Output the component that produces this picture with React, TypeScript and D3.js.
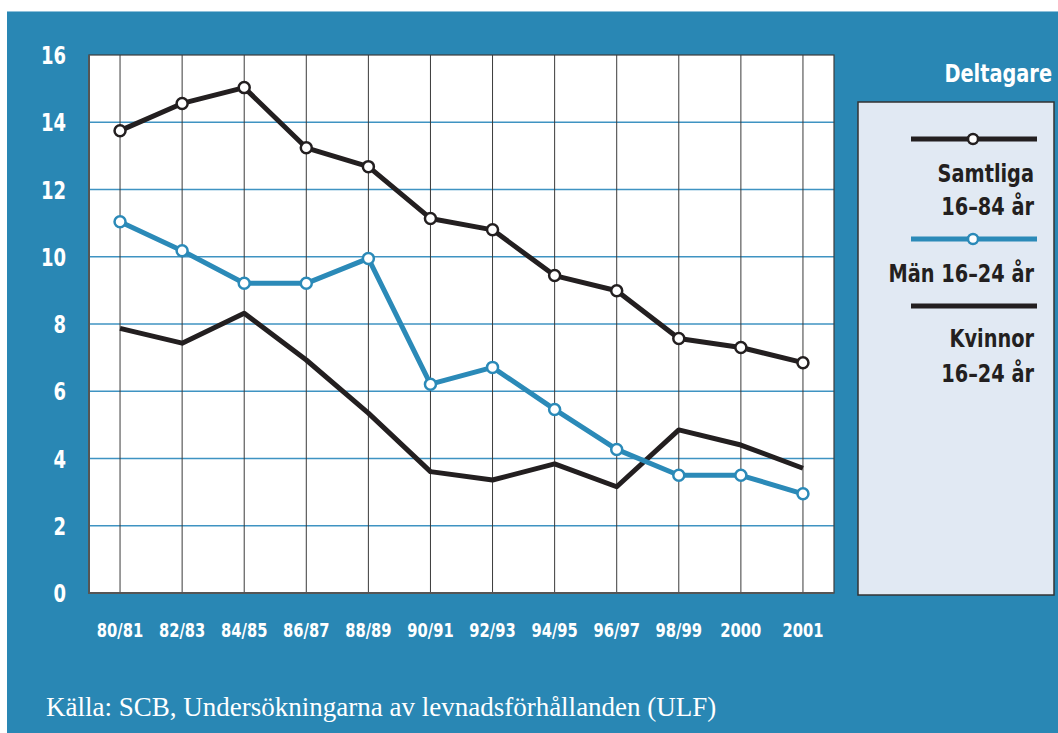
import React from 'react'
import * as d3 from 'd3'

const periods = ['80/81', '82/83', '84/85', '86/87', '88/89', '90/91', '92/93', '94/95', '96/97', '98/99', '2000', '2001']
const samtliga = [13.75, 14.56, 15.03, 13.24, 12.68, 11.14, 10.8, 9.44, 8.99, 7.57, 7.3, 6.85]
const man = [11.04, 10.18, 9.21, 9.21, 9.95, 6.21, 6.71, 5.46, 4.27, 3.5, 3.5, 2.95]
const kvinnor = [7.87, 7.43, 8.32, 6.93, 5.35, 3.61, 3.36, 3.84, 3.16, 4.85, 4.4, 3.71]
const yTicks = [0, 2, 4, 6, 8, 10, 12, 14, 16]

const BLUE_BG = '#2987b4'
const BLUE_LINE = '#2b8ab8'
const BLACK = '#231f20'
const COND = "'DejaVu Sans Condensed', 'DejaVu Sans', sans-serif"

// squeezed bold label, the original uses a condensed face we don't have
function CText({ x, y, sx = 0.84, size, anchor = 'start', fill = BLACK, dy, children }: any) {
  return (
    <text transform={`translate(${x},${y}) scale(${sx},1)`} textAnchor={anchor} fill={fill} dy={dy}
      fontFamily={COND} fontWeight="bold" fontSize={size}>{children}</text>
  )
}

export default function App() {
  const W = 1058
  const H = 733
  const plot = { left: 89, top: 55, right: 834, bottom: 593 }

  const x = d3.scalePoint<string>().domain(periods).range([plot.left, plot.right]).padding(0.5)
  const y = d3.scaleLinear().domain([0, 16]).range([plot.bottom, plot.top])

  const line = d3.line<number>()
    .x((_, i) => x(periods[i]) as number)
    .y(d => y(d))

  const series = [
    { name: 'kvinnor', values: kvinnor, color: BLACK, markers: false },
    { name: 'man', values: man, color: BLUE_LINE, markers: true },
    { name: 'samtliga', values: samtliga, color: BLACK, markers: true },
  ]

  return (
    <svg width={W} height={H} style={{ position: 'absolute', left: 0, top: 0 }}>
      <rect x={0} y={0} width={W} height={H} fill="#fff" />
      <rect x={7} y={11} width={W - 7} height={H - 11} fill={BLUE_BG} />
      <line x1={7} x2={W} y1={11.5} y2={11.5} stroke="#8ec0da" strokeWidth={1} />

      {/* plot area */}
      <rect x={plot.left} y={plot.top} width={plot.right - plot.left} height={plot.bottom - plot.top} fill="#fff" />
      {yTicks.filter(t => t > 0 && t < 16).map(t => (
        <line key={'h' + t} x1={plot.left} x2={plot.right} y1={y(t)} y2={y(t)} stroke="#3f93c2" strokeWidth={1.3} />
      ))}
      {periods.map(p => (
        <line key={'v' + p} x1={x(p)} x2={x(p)} y1={plot.top} y2={plot.bottom} stroke="#3a3a3a" strokeWidth={1} />
      ))}
      <rect x={plot.left} y={plot.top} width={plot.right - plot.left} height={plot.bottom - plot.top}
        fill="none" stroke="#3c3c3c" strokeWidth={1.2} />
      <line x1={plot.left} x2={plot.left} y1={plot.top} y2={plot.bottom + 1} stroke="#555" strokeWidth={2} />
      <line x1={plot.left} x2={plot.right} y1={plot.bottom} y2={plot.bottom} stroke="#555" strokeWidth={2} />

      {series.map(s => (
        <g key={s.name}>
          <path d={line(s.values) || ''} fill="none" stroke={s.color} strokeWidth={5} strokeLinejoin="round" />
          {s.markers && s.values.map((v, i) => (
            <circle key={i} cx={x(periods[i])} cy={y(v)} r={5.5} fill="#fff" stroke={s.color} strokeWidth={2.5} />
          ))}
        </g>
      ))}

      {/* y axis labels */}
      {yTicks.map(t => (
        <CText key={'yl' + t} x={66} y={y(t)} dy="0.36em" anchor="end" fill="#fff" size={25} sx={0.8}>{t}</CText>
      ))}

      {/* x axis labels */}
      {periods.map(p => (
        <CText key={'xl' + p} x={x(p)} y={637} anchor="middle" fill="#fff" size={20} sx={0.82}>{p}</CText>
      ))}

      {/* legend */}
      <CText x={1052} y={82} anchor="end" fill="#fff" size={25} sx={0.86}>Deltagare</CText>
      <rect x={858} y={102} width={196} height={493} fill="#e1e9f3" stroke="#333" strokeWidth={1.5} />

      <line x1={911} x2={1037} y1={139} y2={139} stroke={BLACK} strokeWidth={5} />
      <circle cx={973} cy={139} r={5} fill="#fff" stroke={BLACK} strokeWidth={2.5} />
      <CText x={1034} y={182} anchor="end" size={25} sx={0.86}>Samtliga</CText>
      <CText x={1034} y={215} anchor="end" size={25} sx={0.86}>16–84 år</CText>

      <line x1={911} x2={1037} y1={239} y2={239} stroke={BLUE_LINE} strokeWidth={5} />
      <circle cx={973} cy={239} r={5} fill="#fff" stroke={BLUE_LINE} strokeWidth={2.5} />
      <CText x={1034} y={282} anchor="end" size={25} sx={0.86}>Män 16–24 år</CText>

      <line x1={911} x2={1037} y1={306} y2={306} stroke={BLACK} strokeWidth={5} />
      <CText x={1034} y={347} anchor="end" size={25} sx={0.86}>Kvinnor</CText>
      <CText x={1034} y={382} anchor="end" size={25} sx={0.86}>16–24 år</CText>

      <text x={46} y={716} fill="#fff" fontFamily="'Liberation Serif', 'DejaVu Serif', serif" fontSize={27}>
        Källa: SCB, Undersökningarna av levnadsförhållanden (ULF)
      </text>
    </svg>
  )
}
